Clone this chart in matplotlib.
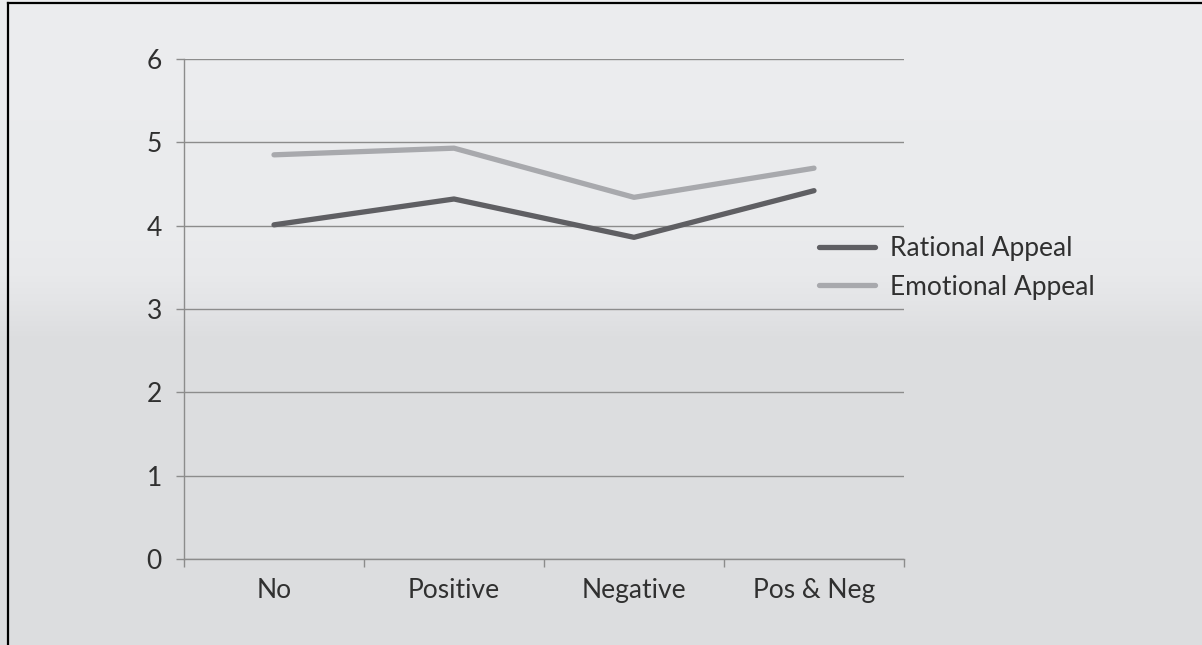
import matplotlib.pyplot as plt
import numpy as np
from matplotlib.lines import Line2D

categories = ['No', 'Positive', 'Negative', 'Pos & Neg']
rational = [4.01, 4.32, 3.86, 4.42]
emotional = [4.85, 4.93, 4.34, 4.69]

plt.rcParams['font.family'] = ['Lato', 'DejaVu Sans']

W, H = 1202, 645
fig = plt.figure(figsize=(W / 100, H / 100), dpi=100)

# background gradient, light on top, darker lower half
bg = fig.add_axes([0, 0, 1, 1], zorder=-10)
ys = np.array([0, 240, 275, 300, 340, 645])
vals = np.array([236, 234, 232, 228, 220, 221])
col = np.interp(np.arange(H), ys, vals) / 255.0
grad = np.stack([col, col + 1 / 255, col + 3 / 255], axis=-1)
grad = np.clip(grad, 0, 1)[:, None, :].repeat(2, axis=1)
bg.imshow(grad, aspect='auto', extent=[0, 1, 0, 1], origin='upper')
bg.set_xlim(0, 1)
bg.set_ylim(0, 1)
bg.axis('off')

# frame lines along top and left
fig.add_artist(Line2D([8 / W, 1], [1 - 3 / H, 1 - 3 / H], color='black', lw=1.6))
fig.add_artist(Line2D([8 / W, 8 / W], [0, 1 - 3 / H], color='black', lw=1.6))

ax = fig.add_axes([184 / W, 1 - 559 / H, 720 / W, 500 / H])
ax.patch.set_alpha(0)

x = np.arange(len(categories))
ax.plot(x, rational, color='#5f5f63', lw=3.8, solid_capstyle='round',
        label='Rational Appeal', zorder=3)
ax.plot(x, emotional, color='#a8a9ad', lw=3.8, solid_capstyle='round',
        label='Emotional Appeal', zorder=3)

ax.set_xlim(-0.5, len(categories) - 0.5)
ax.set_ylim(0, 6)
ax.set_yticks(range(0, 7))
ax.yaxis.grid(True, color='#8c8c8c', lw=1)
ax.set_axisbelow(True)

txt = '#303030'
ax.set_xticks(np.arange(-0.5, len(categories), 1.0))
ax.set_xticklabels([])
ax.set_xticks(x, minor=True)
ax.set_xticklabels(categories, minor=True)
ax.tick_params(axis='x', which='major', length=6, color='#8c8c8c', width=1)
ax.tick_params(axis='x', which='minor', length=0, pad=14, labelsize=19, labelcolor=txt)
ax.tick_params(axis='y', length=6, color='#8c8c8c', width=1, pad=10, labelsize=19,
               labelcolor=txt)

for s in ['top', 'right']:
    ax.spines[s].set_visible(False)
for s in ['left', 'bottom']:
    ax.spines[s].set_color('#8c8c8c')
    ax.spines[s].set_linewidth(1)

fig.legend(loc='center left', bbox_to_anchor=(795 / W, 1 - 268 / H), frameon=False,
           fontsize=19, handlelength=2.15, handletextpad=0.55, labelspacing=0.5,
           labelcolor=txt)

fig.savefig('out.png', dpi=100)
